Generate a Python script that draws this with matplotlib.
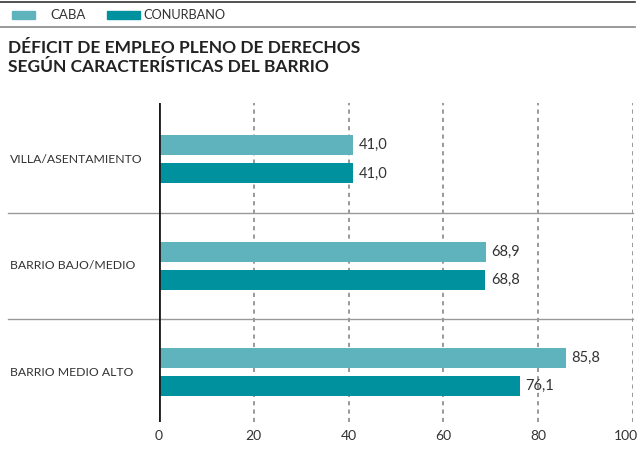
import numpy as np
import matplotlib.pyplot as plt
from matplotlib.lines import Line2D
from matplotlib.patches import Rectangle
import matplotlib.transforms as mtransforms

plt.rcParams['font.family'] = ['Lato', 'DejaVu Sans']

# data
categories = ['VILLA/ASENTAMIENTO', 'BARRIO BAJO/MEDIO', 'BARRIO MEDIO ALTO']
caba = [41.0, 68.9, 85.8]
conurbano = [41.0, 68.8, 76.1]
series_names = ['CABA', 'CONURBANO']
xticks = [0, 20, 40, 60, 80, 100]

col_caba = '#5fb3bd'
col_conu = '#00919e'
txt = '#333333'

W, H = 642, 455
fig = plt.figure(figsize=(W / 100, H / 100), dpi=100)
ax = fig.add_axes([159 / W, 1 - 422 / H, (633 - 159) / W, (422 - 103) / H])

y = np.arange(len(categories))
off = 0.132
bh = 0.19
ax.barh(y - off, caba, height=bh, color=col_caba, zorder=3)
ax.barh(y + off, conurbano, height=bh, color=col_conu, zorder=3)

def fmt(v):
    return f'{v:.1f}'.replace('.', ',')

for yi, v in zip(y, caba):
    ax.text(v + 1.2, yi - off, fmt(v), va='center', ha='left', fontsize=10.5, color=txt)
for yi, v in zip(y, conurbano):
    ax.text(v + 1.2, yi + off, fmt(v), va='center', ha='left', fontsize=10.5, color=txt)

ax.set_xlim(0, 100)
ax.set_ylim(2.47, -0.53)
for s in ax.spines.values():
    s.set_visible(False)
ax.axvline(0, color='#1a1a1a', lw=2, zorder=4)
for xt in xticks[1:]:
    ax.axvline(xt, color='#888888', lw=1.2, ls=(0, (2.5, 2.5)), zorder=1)

ax.set_xticks(xticks)
ax.set_xticklabels([str(t) for t in xticks], fontsize=10, color=txt)
ax.tick_params(axis='x', length=0, pad=6)
ax.set_yticks([])
# the last label sits a little left of its gridline, as in the original
last = ax.get_xticklabels()[-1]
last.set_transform(last.get_transform() + mtransforms.ScaledTranslation(-7 / 100, 0, fig.dpi_scale_trans))

# category labels and separators across the whole figure width
blend = mtransforms.blended_transform_factory(fig.transFigure, ax.transData)
for yi, cat in zip(y, categories):
    ax.text(10 / W, yi, cat, transform=blend, va='center', ha='left', fontsize=8.8, color=txt)
for sep in [0.5, 1.5]:
    ax.add_line(Line2D([8 / W, 633 / W], [sep, sep], transform=blend, color='#999999',
                       lw=1, clip_on=False, zorder=2))

# header rules
fig.add_artist(Line2D([0, 635 / W], [1 - 2 / H] * 2, color='#333333', lw=1.2))
fig.add_artist(Line2D([0, 635 / W], [1 - 27 / H] * 2, color='#888888', lw=1.2))

# legend
fig.add_artist(Rectangle((12 / W, 1 - 19 / H), 23 / W, 8 / H, color=col_caba))
fig.text(50 / W, 1 - 15 / H, series_names[0], fontsize=9.5, color=txt, va='center')
fig.add_artist(Rectangle((107 / W, 1 - 19 / H), 33 / W, 8 / H, color=col_conu))
fig.text(143 / W, 1 - 15 / H, series_names[1], fontsize=9.2, color=txt, va='center')

# title
fig.text(8 / W, 1 - 48 / H, 'DÉFICIT DE EMPLEO PLENO DE DERECHOS', fontsize=12.5,
         fontweight='bold', color='#222222', va='center')
fig.text(8 / W, 1 - 67 / H, 'SEGÚN CARACTERÍSTICAS DEL BARRIO', fontsize=12.5,
         fontweight='bold', color='#222222', va='center')

fig.savefig('out.png', dpi=100)
